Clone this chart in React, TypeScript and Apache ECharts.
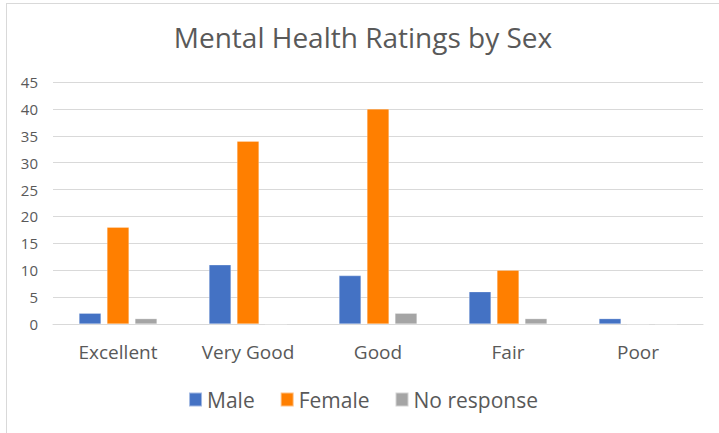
import React, { useEffect, useRef } from "react";
import * as echarts from "echarts";

const categories = ["Excellent", "Very Good", "Good", "Fair", "Poor"];
const maleValues = [2, 11, 9, 6, 1];
const femaleValues = [18, 34, 40, 10, 0];
const noResponseValues = [1, 0, 2, 1, 0];
const seriesNames = ["Male", "Female", "No response"];

const FONT = "'Open Sans', 'Noto Sans', sans-serif";
const TEXT = "#595959";

export default function App() {
  const ref = useRef<HTMLDivElement>(null);
  useEffect(() => {
    if (!ref.current) return;
    const chart = echarts.init(ref.current, undefined, { renderer: "svg" });
    const barStyle = (color: string) => ({
      color,
      borderColor: "rgba(255,255,255,0.5)",
      borderWidth: 0.5,
    });
    chart.setOption({
      animation: false,
      backgroundColor: "#ffffff",
      title: {
        text: "Mental Health Ratings by Sex",
        left: "center",
        top: 14,
        textStyle: {
          fontFamily: FONT,
          fontSize: 28,
          fontWeight: "normal",
          color: TEXT,
        },
      },
      legend: {
        data: seriesNames,
        bottom: 18,
        left: "center",
        itemWidth: 13,
        itemHeight: 14,
        itemGap: 25,
        icon: "rect",
        textStyle: { fontFamily: FONT, fontSize: 21, color: TEXT },
      },
      grid: { left: 46, right: 16, top: 78, bottom: 109, containLabel: false },
      xAxis: {
        type: "category",
        data: categories,
        axisTick: { show: false },
        axisLine: { lineStyle: { color: "#D9D9D9" } },
        axisLabel: {
          fontFamily: FONT,
          fontSize: 19,
          color: TEXT,
          margin: 18,
        },
      },
      yAxis: {
        type: "value",
        min: 0,
        max: 45,
        interval: 5,
        axisLine: { show: false },
        axisTick: { show: false },
        splitLine: { lineStyle: { color: "#D9D9D9" } },
        axisLabel: {
          fontFamily: FONT,
          fontSize: 15,
          color: TEXT,
          margin: 15,
        },
      },
      series: [
        {
          name: "Male",
          type: "bar",
          data: maleValues,
          itemStyle: barStyle("#4472C4"),
          barGap: "27%",
          barCategoryGap: "40%",
        },
        {
          name: "Female",
          type: "bar",
          data: femaleValues,
          itemStyle: barStyle("#FF7F00"),
        },
        {
          name: "No response",
          type: "bar",
          data: noResponseValues,
          itemStyle: barStyle("#A5A5A5"),
        },
      ],
    });
    return () => chart.dispose();
  }, []);
  return (
    <div
      style={{
        position: "absolute",
        left: 0,
        top: 0,
        width: 719,
        height: 433,
        background: "#fff",
      }}
    >
      <div
        style={{
          position: "absolute",
          left: 6,
          top: 3,
          width: 713,
          height: 430,
          borderLeft: "1px solid #D9D9D9",
          borderTop: "1px solid #D9D9D9",
          boxSizing: "border-box",
        }}
      />
      <div
        ref={ref}
        style={{ position: "absolute", left: 7, top: 4, width: 712, height: 429 }}
      />
    </div>
  );
}
